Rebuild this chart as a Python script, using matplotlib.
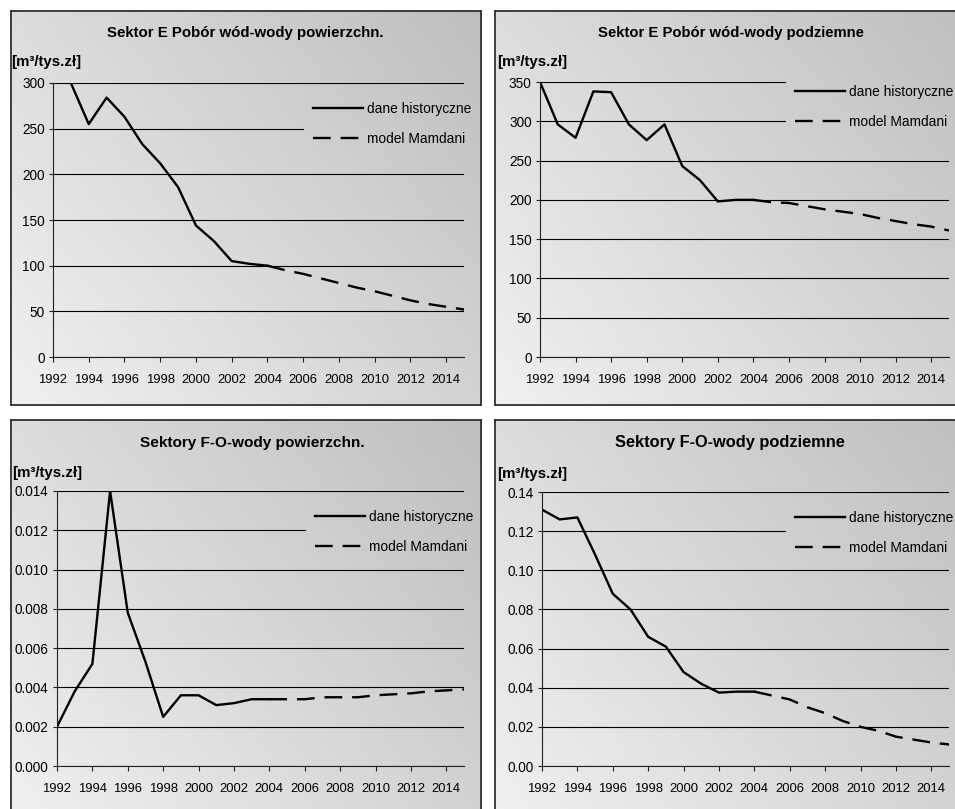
import numpy as np
import matplotlib
matplotlib.use("Agg")
import matplotlib.pyplot as plt
from matplotlib.ticker import MultipleLocator, FormatStrFormatter

plt.rcParams['font.family'] = ['Liberation Sans', 'DejaVu Sans']

# data
hist_years = list(range(1992, 2005))
model_years = list(range(2004, 2016))

e_pow_hist = [np.nan, 300, 255, 284, 263, 233, 212, 186, 144, 127, 105, 102, 100]
e_pow_model = [100, 95, 91, 86, 81, 76, 72, 67, 62, 58, 55, 52]

e_pod_hist = [350, 296, 279, 338, 337, 296, 276, 296, 243, 225, 198, 200, 200]
e_pod_model = [200, 197, 196, 192, 188, 185, 182, 177, 173, 169, 166, 161]

fo_pow_hist = [0.0020, 0.0038, 0.0052, 0.0140, 0.0078, 0.0053, 0.0025,
               0.0036, 0.0036, 0.0031, 0.0032, 0.0034, 0.0034]
fo_pow_model = [0.0034, 0.0034, 0.0034, 0.0035, 0.0035, 0.0035, 0.0036,
                0.00365, 0.0037, 0.0038, 0.00385, 0.0039]

fo_pod_hist = [0.131, 0.126, 0.127, 0.108, 0.088, 0.080, 0.066, 0.061,
               0.048, 0.042, 0.0375, 0.038, 0.038]
fo_pod_model = [0.038, 0.036, 0.034, 0.030, 0.027, 0.023, 0.020, 0.018,
                0.015, 0.0135, 0.012, 0.011]

titles = ["Sektor E Pobór wód-wody powierzchn.",
          "Sektor E Pobór wód-wody podziemne",
          "Sektory F-O-wody powierzchn.",
          "Sektory F-O-wody podziemne"]
unit = "[m³/tys.zł]"
labels = ["dane historyczne", "model Mamdani"]

W, H = 955, 809
fig = plt.figure(figsize=(W / 100, H / 100), dpi=100)
fig.patch.set_facecolor("white")


def frac(x0, y0, x1, y1):
    # pixel box (top-left origin) -> figure fraction rect
    return [x0 / W, 1 - y1 / H, (x1 - x0) / W, (y1 - y0) / H]


def shade(x, y):
    return 240 - 30 * x - 20 * y


gx, gy = np.meshgrid(np.linspace(0, 1, 200), np.linspace(0, 1, 200))
grad = shade(gx, gy)

panels = [
    dict(box=(11, 11, 481, 405), plot=(53, 83, 464, 357), title=(245, 33), unitpos=(11, 62),
         hist=e_pow_hist, model=e_pow_model, ymax=300, step=50, fmt="%d",
         leg=(307, 96), tsize=10.8),
    dict(box=(495, 11, 975, 405), plot=(540, 82, 949, 357), title=(731, 33), unitpos=(497, 62),
         hist=e_pod_hist, model=e_pod_model, ymax=350, step=50, fmt="%d",
         leg=(789, 79), tsize=10.7),
    dict(box=(11, 420, 481, 820), plot=(57, 491, 464, 766), title=(252, 443), unitpos=(12, 473),
         hist=fo_pow_hist, model=fo_pow_model, ymax=0.014, step=0.002, fmt="%.3f",
         leg=(309, 504), tsize=11.1),
    dict(box=(495, 420, 975, 820), plot=(542, 492, 949, 766), title=(730, 443), unitpos=(497, 474),
         hist=fo_pod_hist, model=fo_pod_model, ymax=0.14, step=0.02, fmt="%.2f",
         leg=(789, 505), tsize=11.8),
]

legends = []
for i, p in enumerate(panels):
    # panel background with gradient
    bg = fig.add_axes(frac(*p["box"]), zorder=0)
    bg.imshow(grad, cmap="gray", vmin=0, vmax=255, origin="lower",
              extent=[0, 1, 0, 1], aspect="auto", interpolation="bilinear")
    bg.set_xticks([])
    bg.set_yticks([])
    for s in bg.spines.values():
        s.set_color("#303030")
        s.set_linewidth(1.3)

    ax = fig.add_axes(frac(*p["plot"]), zorder=1)
    ax.set_facecolor("none")
    h1, = ax.plot(hist_years, p["hist"], color="black", lw=1.7)
    h2, = ax.plot(model_years, p["model"], color="black", lw=1.7, dashes=(7.5, 4.2))
    ax.set_xlim(1992, 2015)
    ax.set_ylim(0, p["ymax"])
    ax.xaxis.set_major_locator(MultipleLocator(2))
    ax.yaxis.set_major_locator(MultipleLocator(p["step"]))
    ax.yaxis.set_major_formatter(FormatStrFormatter(p["fmt"]))
    ax.yaxis.grid(True, color="black", lw=0.8)
    ax.set_axisbelow(True)
    for s in ["top", "right"]:
        ax.spines[s].set_visible(False)
    for s in ["left", "bottom"]:
        ax.spines[s].set_color("#202020")
        ax.spines[s].set_linewidth(0.8)
    ax.tick_params(axis="x", direction="out", length=3.5, width=0.8, pad=8.5,
                   labelsize=9.4, color="#202020")
    ax.tick_params(axis="y", direction="out", length=3, width=0.8, pad=3,
                   labelsize=9.8, color="#202020")

    # legend sits on the figure so a gradient patch can go under it
    lx, ly = p["leg"]
    leg = fig.legend([h1, h2], labels, loc="upper left",
                     bbox_to_anchor=(lx / W, 1 - ly / H), frameon=False,
                     fontsize=9.9, handlelength=3.6, handletextpad=0.28,
                     labelspacing=1.14, borderpad=0.45, borderaxespad=0)
    legends.append((leg, p))

    tx, ty = p["title"]
    fig.text(tx / W, 1 - ty / H, titles[i], ha="center", va="center",
             fontsize=p["tsize"], fontweight="bold")
    ux, uy = p["unitpos"]
    fig.text(ux / W, 1 - uy / H, unit, ha="left", va="center",
             fontsize=10.8, fontweight="bold")

# gradient patch behind each legend, hiding the grid lines there
fig.canvas.draw()
for leg, p in legends:
    bb = leg.get_window_extent()
    bx0, by0, bx1, by1 = p["box"]
    pad = 3
    x0 = bb.x0 - pad
    x1 = min(bb.x1 + pad, bx1 - 1.5)
    y0, y1 = bb.y0 - pad, bb.y1 + pad
    cover = fig.add_axes([x0 / W, y0 / H, (x1 - x0) / W, (y1 - y0) / H], zorder=2)
    cover.imshow(grad, cmap="gray", vmin=0, vmax=255, origin="lower",
                 extent=[0, 1, 0, 1], aspect="auto", interpolation="bilinear")
    cover.set_xlim((x0 - bx0) / (bx1 - bx0), (x1 - bx0) / (bx1 - bx0))
    cover.set_ylim((y0 - (H - by1)) / (by1 - by0), (y1 - (H - by1)) / (by1 - by0))
    cover.axis("off")

fig.savefig("out.png", dpi=100, facecolor="white")
